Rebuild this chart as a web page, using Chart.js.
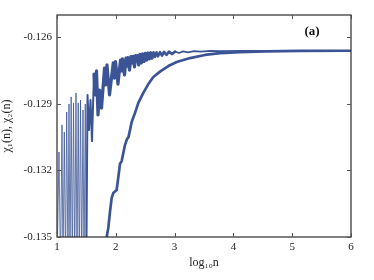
<!DOCTYPE html>
<html>
<head>
<meta charset="utf-8">
<script src="https://cdn.jsdelivr.net/npm/chart.js@4"></script>
<style>
  body { margin: 0; background: #fff; }
  #wrap { width: 374px; height: 280px; position: relative; }
</style>
</head>
<body>
<div id="wrap"><canvas id="chi"></canvas></div>
<script>
  // tick labels
  const xTicks = [1, 2, 3, 4, 5, 6];
  const yTicks = [-0.135, -0.132, -0.129, -0.126];

  // chi_1(n): oscillating curve (peaks / troughs)
  const chi1X = [1.000, 1.034, 1.060, 1.085, 1.102, 1.124, 1.145, 1.165, 1.187, 1.204,
    1.221, 1.241, 1.260, 1.281, 1.301, 1.323, 1.340, 1.361, 1.379, 1.400,
    1.420, 1.442, 1.459, 1.481, 1.498,
    1.519, 1.544, 1.570, 1.595, 1.629, 1.651, 1.672, 1.697, 1.723, 1.757,
    1.808, 1.828, 1.850, 1.893, 1.957, 1.974, 1.995, 2.037,
    2.080, 2.097, 2.114, 2.148, 2.173, 2.190, 2.207, 2.233,
    2.259, 2.276, 2.293, 2.318, 2.338, 2.352, 2.366, 2.389,
    2.412, 2.434, 2.457, 2.480, 2.502, 2.524, 2.548, 2.570, 2.594, 2.616,
    2.641, 2.667, 2.692, 2.718, 2.752, 2.786, 2.820, 2.862, 2.905, 2.956,
    3.007, 3.075, 3.143, 3.228, 3.330, 3.449, 3.602, 3.772, 4.112, 4.793, 6.000];
  const chi1Y = [-0.1365, -0.13117, -0.1365, -0.12995, -0.1365, -0.13027, -0.1365, -0.12937, -0.1365, -0.12901,
    -0.1365, -0.12869, -0.1365, -0.12896, -0.1365, -0.12851, -0.1365, -0.12896, -0.1365, -0.12883,
    -0.1365, -0.12928, -0.1365, -0.12901, -0.1365,
    -0.12860, -0.13018, -0.12883, -0.13068, -0.12766, -0.12860, -0.12752, -0.12950, -0.12838, -0.12919,
    -0.12739, -0.12815, -0.12725, -0.12860, -0.12716, -0.12784, -0.12710, -0.12811,
    -0.12703, -0.12752, -0.12698, -0.12770, -0.12694, -0.12730, -0.12692, -0.12748,
    -0.12687, -0.12716, -0.12686, -0.12734, -0.12683, -0.12707, -0.12683, -0.12725,
    -0.12677, -0.12716, -0.12675, -0.12709, -0.12673, -0.12703, -0.12671, -0.12698, -0.12670, -0.12694,
    -0.12668, -0.12689, -0.12668, -0.12686, -0.12667, -0.12683, -0.12666, -0.12680, -0.12665, -0.12676,
    -0.12665, -0.12671, -0.12664, -0.12668, -0.12663, -0.12665, -0.12662, -0.12663, -0.12662, -0.12661, -0.12661];

  // chi_2(n): slower rising curve
  const chi2X = [1.825, 1.845, 1.872, 1.901, 1.930, 1.957, 2.015, 2.043, 2.071, 2.100,
    2.128, 2.156, 2.190, 2.216, 2.270, 2.327, 2.383, 2.468, 2.553, 2.638,
    2.752, 2.893, 3.036, 3.262, 3.517, 3.772, 4.112, 4.537, 5.133, 6.000];
  const chi2Y = [-0.13559, -0.13500, -0.13460, -0.13387, -0.13324, -0.13302, -0.13288, -0.13230, -0.13171, -0.13158,
    -0.13122, -0.13086, -0.13059, -0.13050, -0.12982, -0.12941, -0.12896, -0.12851, -0.12811, -0.12779,
    -0.12755, -0.12730, -0.12712, -0.12694, -0.12680, -0.12672, -0.12667, -0.12664, -0.12662, -0.12661];

  const lineColor = '#3b5496';
  const thinColor = 'rgba(59, 84, 150, 0.78)';
  const serif = "'Liberation Serif', 'DejaVu Serif', serif";

  const toPoints = (xs, ys) => xs.map((x, i) => ({ x: x, y: ys[i] }));

  // width of chi_1 stroke per stretch of x
  const chi1Width = x => x < 1.49 ? 1 : x < 1.6 ? 2 : x < 2.6 ? 3.2 : x < 3 ? 2.6 : 1.7;

  const framePlugin = {
    id: 'frame',
    afterDraw(chart) {
      const { ctx, chartArea: a, scales } = chart;
      ctx.save();
      ctx.strokeStyle = '#2a2a2a';
      ctx.lineWidth = 1.2;
      ctx.strokeRect(a.left, a.top, a.right - a.left, a.bottom - a.top);
      ctx.lineWidth = 1;
      ctx.strokeStyle = '#555';
      ctx.beginPath();
      xTicks.forEach(v => {
        const px = Math.round(scales.x.getPixelForValue(v)) + 0.5;
        ctx.moveTo(px, a.bottom); ctx.lineTo(px, a.bottom - 4);
        ctx.moveTo(px, a.top); ctx.lineTo(px, a.top + 4);
      });
      yTicks.forEach(v => {
        const py = Math.round(scales.y.getPixelForValue(v)) + 0.5;
        ctx.moveTo(a.left, py); ctx.lineTo(a.left + 4, py);
        ctx.moveTo(a.right, py); ctx.lineTo(a.right - 4, py);
      });
      ctx.stroke();
      // panel label
      ctx.fillStyle = '#111';
      ctx.font = "bold 13px " + serif;
      ctx.textAlign = 'center';
      ctx.textBaseline = 'middle';
      ctx.fillText('(a)', 312, 32);
      ctx.restore();
    }
  };

  const ctx = document.getElementById('chi').getContext('2d');
  new Chart(ctx, {
    type: 'line',
    data: {
      datasets: [{
        label: 'χ₁(n)',
        data: toPoints(chi1X, chi1Y),
        borderColor: lineColor,
        borderWidth: 2.4,
        borderJoinStyle: 'round',
        borderCapStyle: 'round',
        pointRadius: 0,
        tension: 0,
        segment: {
          borderWidth: c => chi1Width(c.p0.parsed.x),
          borderColor: c => c.p0.parsed.x < 1.49 ? thinColor : lineColor
        }
      }, {
        label: 'χ₂(n)',
        data: toPoints(chi2X, chi2Y),
        borderColor: lineColor,
        borderWidth: 2.7,
        borderJoinStyle: 'round',
        pointRadius: 0,
        tension: 0
      }]
    },
    options: {
      responsive: true,
      maintainAspectRatio: false,
      animation: false,
      layout: { padding: { top: 15, right: 23, left: 0, bottom: 0 } },
      plugins: {
        legend: { display: false },
        tooltip: { enabled: false }
      },
      scales: {
        x: {
          type: 'linear',
          min: 1,
          max: 6,
          afterBuildTicks: s => { s.ticks = xTicks.map(v => ({ value: v })); },
          afterFit: s => { s.height = 43; },
          grid: { display: false, drawTicks: false },
          border: { display: false },
          ticks: {
            padding: 4,
            color: '#222',
            font: { family: serif, size: 11 },
            callback: v => String(v)
          },
          title: {
            display: true,
            text: 'log₁₀n',
            color: '#222',
            font: { family: serif, size: 12 },
            padding: { top: 0, bottom: 10 }
          }
        },
        y: {
          type: 'linear',
          min: -0.135,
          max: -0.125,
          afterBuildTicks: s => { s.ticks = yTicks.map(v => ({ value: v })); },
          afterFit: s => { s.width = 57; },
          grid: { display: false, drawTicks: false },
          border: { display: false },
          ticks: {
            padding: 5,
            color: '#222',
            font: { family: serif, size: 11 },
            callback: v => v.toFixed(3)
          },
          title: {
            display: true,
            text: 'χ₁(n), χ₂(n)',
            color: '#222',
            font: { family: serif, size: 12 },
            padding: { top: 0, bottom: 0 }
          }
        }
      }
    },
    plugins: [framePlugin]
  });
</script>
</body>
</html>
